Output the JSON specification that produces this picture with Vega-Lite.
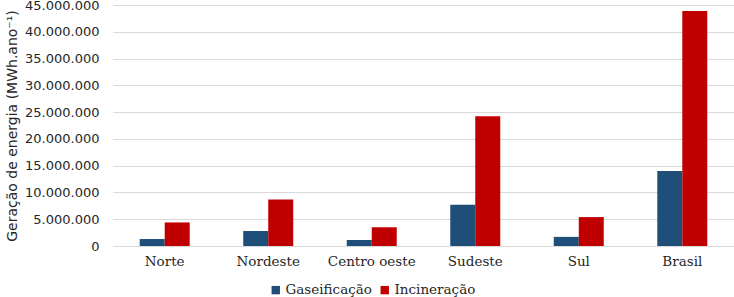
{
  "$schema": "https://vega.github.io/schema/vega-lite/v6.json",
  "width": 621,
  "height": 241,
  "autosize": {"type": "none"},
  "padding": {"left": 113, "top": 5, "right": 0, "bottom": 51},
  "background": "white",
  "data": {
    "values": [
      {"regiao": "Norte", "tipo": "Gaseificação", "valor": 1300000},
      {"regiao": "Norte", "tipo": "Incineração", "valor": 4400000},
      {"regiao": "Nordeste", "tipo": "Gaseificação", "valor": 2800000},
      {"regiao": "Nordeste", "tipo": "Incineração", "valor": 8700000},
      {"regiao": "Centro oeste", "tipo": "Gaseificação", "valor": 1100000},
      {"regiao": "Centro oeste", "tipo": "Incineração", "valor": 3500000},
      {"regiao": "Sudeste", "tipo": "Gaseificação", "valor": 7700000},
      {"regiao": "Sudeste", "tipo": "Incineração", "valor": 24250000},
      {"regiao": "Sul", "tipo": "Gaseificação", "valor": 1700000},
      {"regiao": "Sul", "tipo": "Incineração", "valor": 5400000},
      {"regiao": "Brasil", "tipo": "Gaseificação", "valor": 14000000},
      {"regiao": "Brasil", "tipo": "Incineração", "valor": 43900000}
    ]
  },
  "mark": {"type": "bar"},
  "encoding": {
    "x": {
      "field": "regiao",
      "type": "nominal",
      "sort": ["Norte", "Nordeste", "Centro oeste", "Sudeste", "Sul", "Brasil"],
      "scale": {"paddingInner": 0.517, "paddingOuter": 0.258},
      "axis": {
        "title": null,
        "labelAngle": 0,
        "ticks": false,
        "domain": true,
        "domainColor": "#D9D9D9",
        "domainWidth": 1,
        "labelFont": "DejaVu Serif",
        "labelFontSize": 13.5,
        "labelColor": "#262626",
        "labelPadding": 8
      }
    },
    "xOffset": {"field": "tipo", "type": "nominal", "sort": ["Gaseificação", "Incineração"], "scale": {"paddingInner": 0}},
    "y": {
      "field": "valor",
      "type": "quantitative",
      "scale": {"domain": [0, 45000000], "nice": false},
      "axis": {
        "title": "Geração de energia (MWh.ano⁻¹)",
        "titleFont": "DejaVu Sans",
        "titleFontSize": 14,
        "titleFontWeight": "normal",
        "titleColor": "#262626",
        "titlePadding": 5,
        "values": [0, 5000000, 10000000, 15000000, 20000000, 25000000, 30000000, 35000000, 40000000, 45000000],
        "format": ",d",
        "labelFont": "DejaVu Sans",
        "labelFontSize": 13,
        "labelColor": "#262626",
        "labelPadding": 14,
        "ticks": false,
        "domain": false,
        "grid": true,
        "gridColor": "#D9D9D9",
        "gridWidth": 1
      }
    },
    "color": {
      "field": "tipo",
      "type": "nominal",
      "sort": ["Gaseificação", "Incineração"],
      "scale": {"domain": ["Gaseificação", "Incineração"], "range": ["#1F4E79", "#C00000"]},
      "legend": {
        "title": null,
        "orient": "none",
        "direction": "horizontal",
        "legendX": 156,
        "legendY": 278,
        "symbolType": "square",
        "symbolSize": 70,
        "symbolStrokeWidth": 0,
        "labelFont": "DejaVu Serif",
        "labelFontSize": 13.5,
        "labelColor": "#262626",
        "labelOffset": 3,
        "columnPadding": 6
      }
    }
  },
  "config": {
    "view": {"stroke": null},
    "locale": {"number": {"decimal": ",", "thousands": ".", "grouping": [3], "currency": ["R$", ""]}}
  }
}
